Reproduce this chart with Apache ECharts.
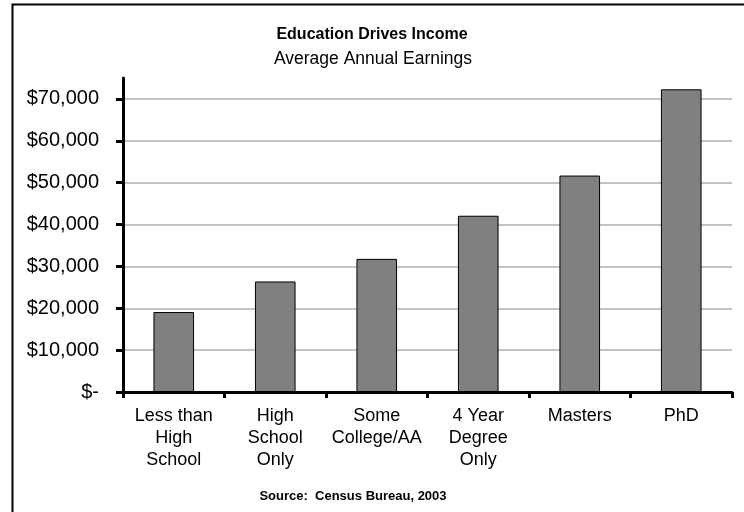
<!DOCTYPE html>
<html>
<head>
<meta charset="utf-8">
<script src="https://cdn.jsdelivr.net/npm/echarts@6/dist/echarts.min.js"></script>
<style>html,body{margin:0;padding:0;background:#fff}#c{width:744px;height:512px}</style>
</head>
<body>
<div id="c"></div>
<script>
const titleText = 'Education Drives Income';
const subtitleText = 'Average Annual Earnings';
const sourceText = 'Source:  Census Bureau, 2003';
const categories = ['Less than\nHigh\nSchool', 'High\nSchool\nOnly', 'Some\nCollege/AA', '4 Year\nDegree\nOnly', 'Masters', 'PhD'];
const earnings = [19100, 26400, 31800, 42100, 51700, 72300];
const yTicks = [0, 10000, 20000, 30000, 40000, 50000, 60000, 70000];

const chart = echarts.init(document.getElementById('c'), null, {renderer: 'canvas'});
const gridColors = yTicks.map(() => '#c4c4c4').concat(['rgba(0,0,0,0)']);
chart.setOption({
  animation: false,
  backgroundColor: '#fff',
  title: [
    {text: titleText, left: 367, textAlign: 'center', top: 22,
     textStyle: {fontFamily: 'Liberation Sans', fontWeight: 'bold', fontSize: 16, color: '#000'}},
    {text: subtitleText, left: 368, textAlign: 'center', top: 45,
     textStyle: {fontFamily: 'Liberation Sans', fontWeight: 'normal', fontSize: 17.5, color: '#000'}},
    {text: sourceText, left: 348, textAlign: 'center', top: 485,
     textStyle: {fontFamily: 'Liberation Sans', fontWeight: 'bold', fontSize: 13, color: '#000'}}
  ],
  graphic: [
    {type: 'rect', left: 10, top: 2, shape: {width: 800, height: 600},
     style: {fill: 'none', stroke: '#000', lineWidth: 2}, silent: true, z: 100}
  ],
  grid: {left: 123, right: 12, top: 78, bottom: 120, containLabel: false},
  xAxis: {
    type: 'category',
    data: categories,
    axisLine: {show: true, lineStyle: {color: '#000', width: 3}},
    axisTick: {show: true, length: 6, lineStyle: {color: '#000', width: 3}},
    axisLabel: {fontFamily: 'Liberation Sans', fontSize: 18, color: '#000', lineHeight: 22, margin: 13, interval: 0}
  },
  yAxis: {
    type: 'value',
    min: 0, max: 75000, interval: 10000,
    axisLine: {show: true, lineStyle: {color: '#000', width: 3}},
    axisTick: {show: true, length: 7, customValues: yTicks, lineStyle: {color: '#000', width: 3}},
    axisLabel: {
      customValues: yTicks,
      fontFamily: 'Liberation Sans', fontSize: 20, color: '#000', margin: 24,
      formatter: v => v === 0 ? '$-' : '$' + v.toLocaleString('en-US')
    },
    splitLine: {show: true, lineStyle: {color: gridColors, width: 2}}
  },
  series: [{
    type: 'bar',
    data: earnings,
    barWidth: '40%',
    itemStyle: {color: '#808080', borderColor: '#000', borderWidth: 1}
  }]
});
</script>
</body>
</html>
